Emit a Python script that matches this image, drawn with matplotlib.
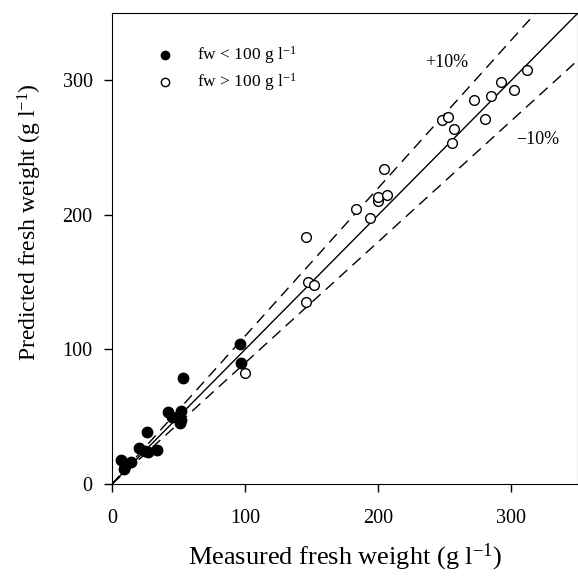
import numpy as np
import matplotlib
matplotlib.use("Agg")
from matplotlib import pyplot as plt

plt.rcParams['font.family'] = ['Liberation Serif', 'DejaVu Serif']
plt.rcParams['mathtext.fontset'] = 'custom'
plt.rcParams['mathtext.rm'] = 'Liberation Serif'
plt.rcParams['mathtext.it'] = 'Liberation Serif:italic'

# fw < 100 g/l (filled)
low_meas = [7, 10, 9, 14, 20, 25, 26, 27, 34, 42, 45, 52, 51, 52, 53.5, 96, 97]
low_pred = [17.5, 13.5, 11.5, 16.5, 27, 24.5, 39, 24, 25, 53.5, 49.5, 54.5, 45.5, 47.5, 78.5, 104, 90]

# fw > 100 g/l (open)
high_meas = [100, 146, 147, 152, 146, 183, 194, 200, 200, 206.5, 204.5, 248, 252, 257, 255.5,
             272, 285, 280, 302, 292, 312]
high_pred = [82.5, 183.5, 150, 148, 135, 204.5, 197.5, 210, 213.5, 215, 234, 270.5, 273, 264, 253.5,
             285, 288.5, 271.5, 292.5, 299, 308]

line_x = np.array([0, 350])

fig = plt.figure(figsize=(5.78, 5.77), dpi=100)
ax = fig.add_axes([0.1938, 0.1612, 0.8062, 0.8163])

ax.plot(line_x, line_x, 'k-', lw=1.0)
ax.plot(line_x, 1.1 * line_x, 'k--', lw=1.0, dashes=(8, 5))
ax.plot(line_x, 0.9 * line_x, 'k--', lw=1.0, dashes=(8, 5))

ax.plot(low_meas, low_pred, 'o', color='black', ms=7.5, zorder=3)
ax.plot(high_meas, high_pred, 'o', mfc='white', mec='black', mew=1.0, ms=7, zorder=3)

# legend drawn by hand
ax.plot([40], [318.5], 'o', color='black', ms=6)
ax.plot([40], [298.5], 'o', mfc='white', mec='black', mew=1.0, ms=6)
ax.text(64, 318.5, r'fw < 100 g l$^{-1}$', fontsize=12.5, va='center')
ax.text(64, 298.5, r'fw > 100 g l$^{-1}$', fontsize=12.5, va='center')

ax.text(251, 313, '+10%', fontsize=13, ha='center', va='center')
ax.text(320, 256, '\u221210%', fontsize=13, ha='center', va='center')

ax.set_xlim(0, 350)
ax.set_ylim(0, 350)
ax.set_xticks([0, 100, 200, 300])
ax.set_yticks([0, 100, 200, 300])
ax.tick_params(direction='out', labelsize=14.5, length=6, width=1)
ax.tick_params(axis='x', pad=12)
ax.tick_params(axis='y', pad=8)

ax.set_xlabel(r'Measured fresh weight (g l$^{-1}$)', fontsize=19, labelpad=10)
ax.set_ylabel(r'Predicted fresh weight (g l$^{-1}$)', fontsize=17)
ax.yaxis.set_label_coords(-0.145, 0.555)

fig.savefig('out.png', dpi=100)
